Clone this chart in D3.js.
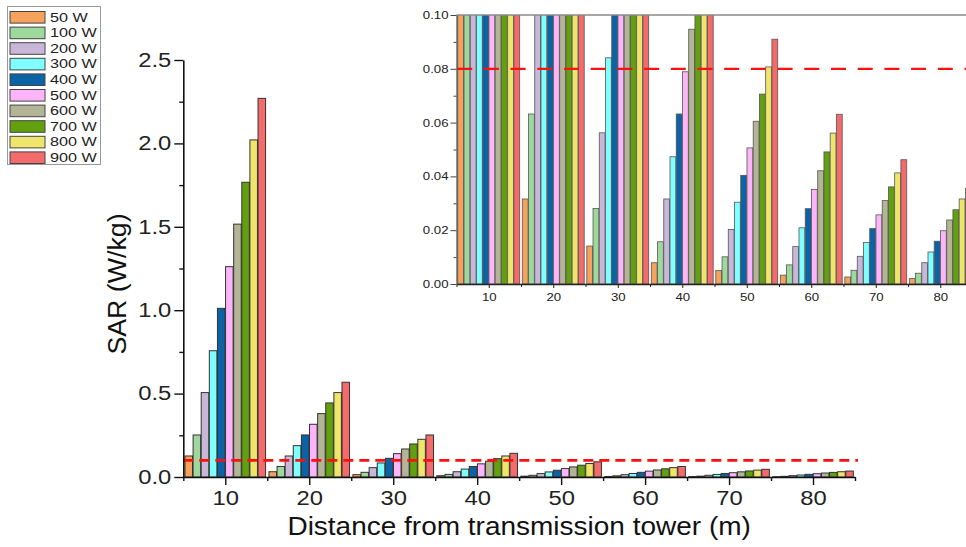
<!DOCTYPE html>
<html>
<head>
<meta charset="utf-8">
<script src="https://cdn.jsdelivr.net/npm/d3@7"></script>
<style>
  body { margin: 0; background: #fff; }
  svg { display: block; font-family: 'Liberation Sans', Arial, sans-serif; }
</style>
</head>
<body>
<svg id="chart" width="966" height="547"></svg>
<script>
// distances (m) and source power levels
const distances = [10, 20, 30, 40, 50, 60, 70, 80];
const powers = ['50 W', '100 W', '200 W', '300 W', '400 W', '500 W', '600 W', '700 W', '800 W', '900 W'];
const colors = ['#F5A25D', '#9DD89D', '#C9B7DA', '#7FFFFF', '#0B63A5', '#FDB5FA', '#B4B496', '#62A010', '#EFE56B', '#F46B6B'];

// SAR (W/kg) per power, one value per distance
const sar50  = [0.126, 0.0316, 0.0141, 0.0079, 0.0050, 0.0033, 0.0026, 0.0020];
const sar100 = [0.252, 0.0632, 0.0281, 0.0157, 0.0101, 0.0071, 0.0051, 0.0040];
const sar200 = [0.506, 0.126, 0.0562, 0.0316, 0.0203, 0.0139, 0.0103, 0.0079];
const sar300 = [0.757, 0.188, 0.0841, 0.0473, 0.0304, 0.0209, 0.0154, 0.0119];
const sar400 = [1.011, 0.252, 0.112, 0.0632, 0.0404, 0.0280, 0.0206, 0.0159];
const sar500 = [1.261, 0.316, 0.140, 0.0789, 0.0506, 0.0351, 0.0257, 0.0198];
const sar600 = [1.516, 0.380, 0.168, 0.0947, 0.0605, 0.0421, 0.0310, 0.0238];
const sar700 = [1.767, 0.444, 0.198, 0.110, 0.0706, 0.0491, 0.0361, 0.0276];
const sar800 = [2.021, 0.506, 0.226, 0.126, 0.0807, 0.0561, 0.0413, 0.0316];
const sar900 = [2.270, 0.568, 0.252, 0.142, 0.0910, 0.0631, 0.0462, 0.0356];
const series = [sar50, sar100, sar200, sar300, sar400, sar500, sar600, sar700, sar800, sar900];

const mainLimit = 0.1;
const insetLimit = 0.08;

const mainYTicks = [0, 0.5, 1.0, 1.5, 2.0, 2.5];
const insetYTicks = [0, 0.02, 0.04, 0.06, 0.08, 0.10];

const svg = d3.select('#chart');

const cells = [];
series.forEach((vals, i) => vals.forEach((v, j) => cells.push({ p: powers[i], c: colors[i], d: distances[j], v })));

// widen text horizontally (the source figure uses a stretched font)
const stretch = (sel, k) => sel.each(function () {
  const t = d3.select(this);
  const x = +t.attr('x') || 0;
  t.attr('x', x / k).attr('transform', `scale(${k},1)`);
});

const drawBars = (g, x, y, strokeCol, strokeW) => {
  const inner = d3.scaleBand()
    .domain(powers)
    .range([x(5.2) - x(10), x(14.8) - x(10)])
    .paddingInner(0.07);
  g.selectAll('rect.bar')
    .data(cells)
    .join('rect')
    .attr('class', 'bar')
    .attr('x', d => x(d.d) + inner(d.p))
    .attr('width', inner.bandwidth())
    .attr('y', d => y(d.v))
    .attr('height', d => y(0) - y(d.v))
    .attr('fill', d => d.c)
    .attr('stroke', strokeCol)
    .attr('stroke-width', strokeW);
};

// ---------- main chart ----------
const x = d3.scaleLinear().domain([5, 85]).range([183.3, 855]);
const y = d3.scaleLinear().domain([0, 2.5]).range([477, 60]);

const main = svg.append('g');
drawBars(main.append('g'), x, y, '#333', 1);

main.append('line')
  .attr('x1', x(5)).attr('x2', x(85) + 3)
  .attr('y1', y(mainLimit)).attr('y2', y(mainLimit))
  .attr('stroke', '#FF1010')
  .attr('stroke-width', 2.7)
  .attr('stroke-dasharray', '10,6');

const xAxis = main.append('g')
  .attr('transform', `translate(0,${y(0)})`)
  .call(d3.axisBottom(x).tickValues(distances).tickSize(8).tickPadding(6).tickSizeOuter(0).tickFormat(d3.format('d')));
xAxis.select('.domain').attr('stroke', '#111').attr('stroke-width', 1.6);
xAxis.selectAll('.tick line').attr('stroke', '#111').attr('stroke-width', 1.4);
xAxis.selectAll('text').attr('font-size', 19.5).attr('fill', '#222').call(stretch, 1.22);

main.append('g')
  .attr('transform', `translate(0,${y(0)})`)
  .call(d3.axisBottom(x).tickValues(d3.range(5, 86, 10)).tickSize(4).tickFormat(''))
  .call(g => g.select('.domain').remove())
  .selectAll('line').attr('stroke', '#111').attr('stroke-width', 1.4);

const yAxis = main.append('g')
  .attr('transform', `translate(${x(5)},0)`)
  .call(d3.axisLeft(y).tickValues(mainYTicks).tickSize(9).tickPadding(3).tickSizeOuter(0).tickFormat(d3.format('.1f')));
yAxis.select('.domain').attr('stroke', '#111').attr('stroke-width', 1.6);
yAxis.selectAll('.tick line').attr('stroke', '#111').attr('stroke-width', 1.4);
yAxis.selectAll('text').attr('font-size', 19.5).attr('fill', '#222').call(stretch, 1.22);

main.append('g')
  .attr('transform', `translate(${x(5)},0)`)
  .call(d3.axisLeft(y).tickValues(d3.range(0.25, 2.5, 0.5)).tickSize(4).tickFormat(''))
  .call(g => g.select('.domain').remove())
  .selectAll('line').attr('stroke', '#111').attr('stroke-width', 1.4);

main.append('g')
  .attr('transform', `translate(${(x(5) + x(85)) / 2},535)`)
  .append('text')
  .attr('text-anchor', 'middle')
  .attr('font-size', 25)
  .attr('fill', '#111')
  .attr('transform', 'scale(1.12,1)')
  .text('Distance from transmission tower (m)');

main.append('g')
  .attr('transform', 'translate(126,284) rotate(-90)')
  .append('text')
  .attr('text-anchor', 'middle')
  .attr('font-size', 25.5)
  .attr('fill', '#111')
  .attr('transform', 'scale(1.05,1)')
  .text('SAR (W/kg)');

// ---------- inset ----------
const xi = d3.scaleLinear().domain([5, 85]).range([456.5, 972.5]);
const yi = d3.scaleLinear().domain([0, 0.1]).range([284, 15]);

const inset = svg.append('g');
svg.append('defs').append('clipPath').attr('id', 'insetClip')
  .append('rect')
  .attr('x', xi(5)).attr('y', yi(0.1))
  .attr('width', 966 - xi(5)).attr('height', yi(0) - yi(0.1));

inset.append('rect')
  .attr('x', xi(5)).attr('y', yi(0.1))
  .attr('width', 966 - xi(5)).attr('height', yi(0) - yi(0.1))
  .attr('fill', '#fff');

drawBars(inset.append('g').attr('clip-path', 'url(#insetClip)'), xi, yi, '#555', 0.8);

inset.append('line')
  .attr('x1', xi(5) + 0.7).attr('x2', 966)
  .attr('y1', yi(insetLimit)).attr('y2', yi(insetLimit))
  .attr('stroke', '#FF1010')
  .attr('stroke-width', 2.2)
  .attr('stroke-dasharray', '15,11.7');

inset.append('line')
  .attr('x1', xi(5)).attr('x2', 966)
  .attr('y1', yi(0.1)).attr('y2', yi(0.1))
  .attr('stroke', '#8a8a8a')
  .attr('stroke-width', 1.6);

const xiAxis = inset.append('g')
  .attr('transform', `translate(0,${yi(0)})`)
  .call(d3.axisBottom(xi).tickValues(distances).tickSize(4).tickPadding(5).tickSizeOuter(0).tickFormat(d3.format('d')));
xiAxis.select('.domain').attr('stroke', '#222').attr('stroke-width', 1.3);
xiAxis.selectAll('.tick line').attr('stroke', '#222');
xiAxis.selectAll('text').attr('font-size', 11).attr('fill', '#222').call(stretch, 1.2);

inset.append('g')
  .attr('transform', `translate(0,${yi(0)})`)
  .call(d3.axisBottom(xi).tickValues(d3.range(5, 86, 10)).tickSize(3).tickFormat(''))
  .call(g => g.select('.domain').remove())
  .selectAll('line').attr('stroke', '#222');

const yiAxis = inset.append('g')
  .attr('transform', `translate(${xi(5)},0)`)
  .call(d3.axisLeft(yi).tickValues(insetYTicks).tickSize(6).tickPadding(2).tickSizeOuter(0).tickFormat(d3.format('.2f')));
yiAxis.select('.domain').attr('stroke', '#555').attr('stroke-width', 1.3);
yiAxis.selectAll('.tick line').attr('stroke', '#444');
yiAxis.selectAll('text').attr('font-size', 11).attr('fill', '#222').call(stretch, 1.2);

inset.append('g')
  .attr('transform', `translate(${xi(5)},0)`)
  .call(d3.axisLeft(yi).tickValues(d3.range(0.01, 0.1, 0.02)).tickSize(3).tickFormat(''))
  .call(g => g.select('.domain').remove())
  .selectAll('line').attr('stroke', '#444');

// ---------- legend ----------
const legend = svg.append('g');
legend.append('rect')
  .attr('x', 7.5).attr('y', 6.5)
  .attr('width', 93).attr('height', 158)
  .attr('fill', '#fff')
  .attr('stroke', '#9a9a9a');

const rowY = d3.scalePoint().domain(powers).range([17.3, 157.7]);
const item = legend.selectAll('g.item')
  .data(powers)
  .join('g')
  .attr('class', 'item')
  .attr('transform', p => `translate(0,${rowY(p)})`);

item.append('rect')
  .attr('x', 10).attr('y', -5.8)
  .attr('width', 35).attr('height', 11.6)
  .attr('fill', (p, i) => colors[i])
  .attr('stroke', '#444');

item.append('g')
  .attr('transform', 'translate(50,4.3)')
  .append('text')
  .attr('font-size', 12)
  .attr('fill', '#222')
  .attr('transform', 'scale(1.35,1)')
  .text(p => p);
</script>
</body>
</html>
